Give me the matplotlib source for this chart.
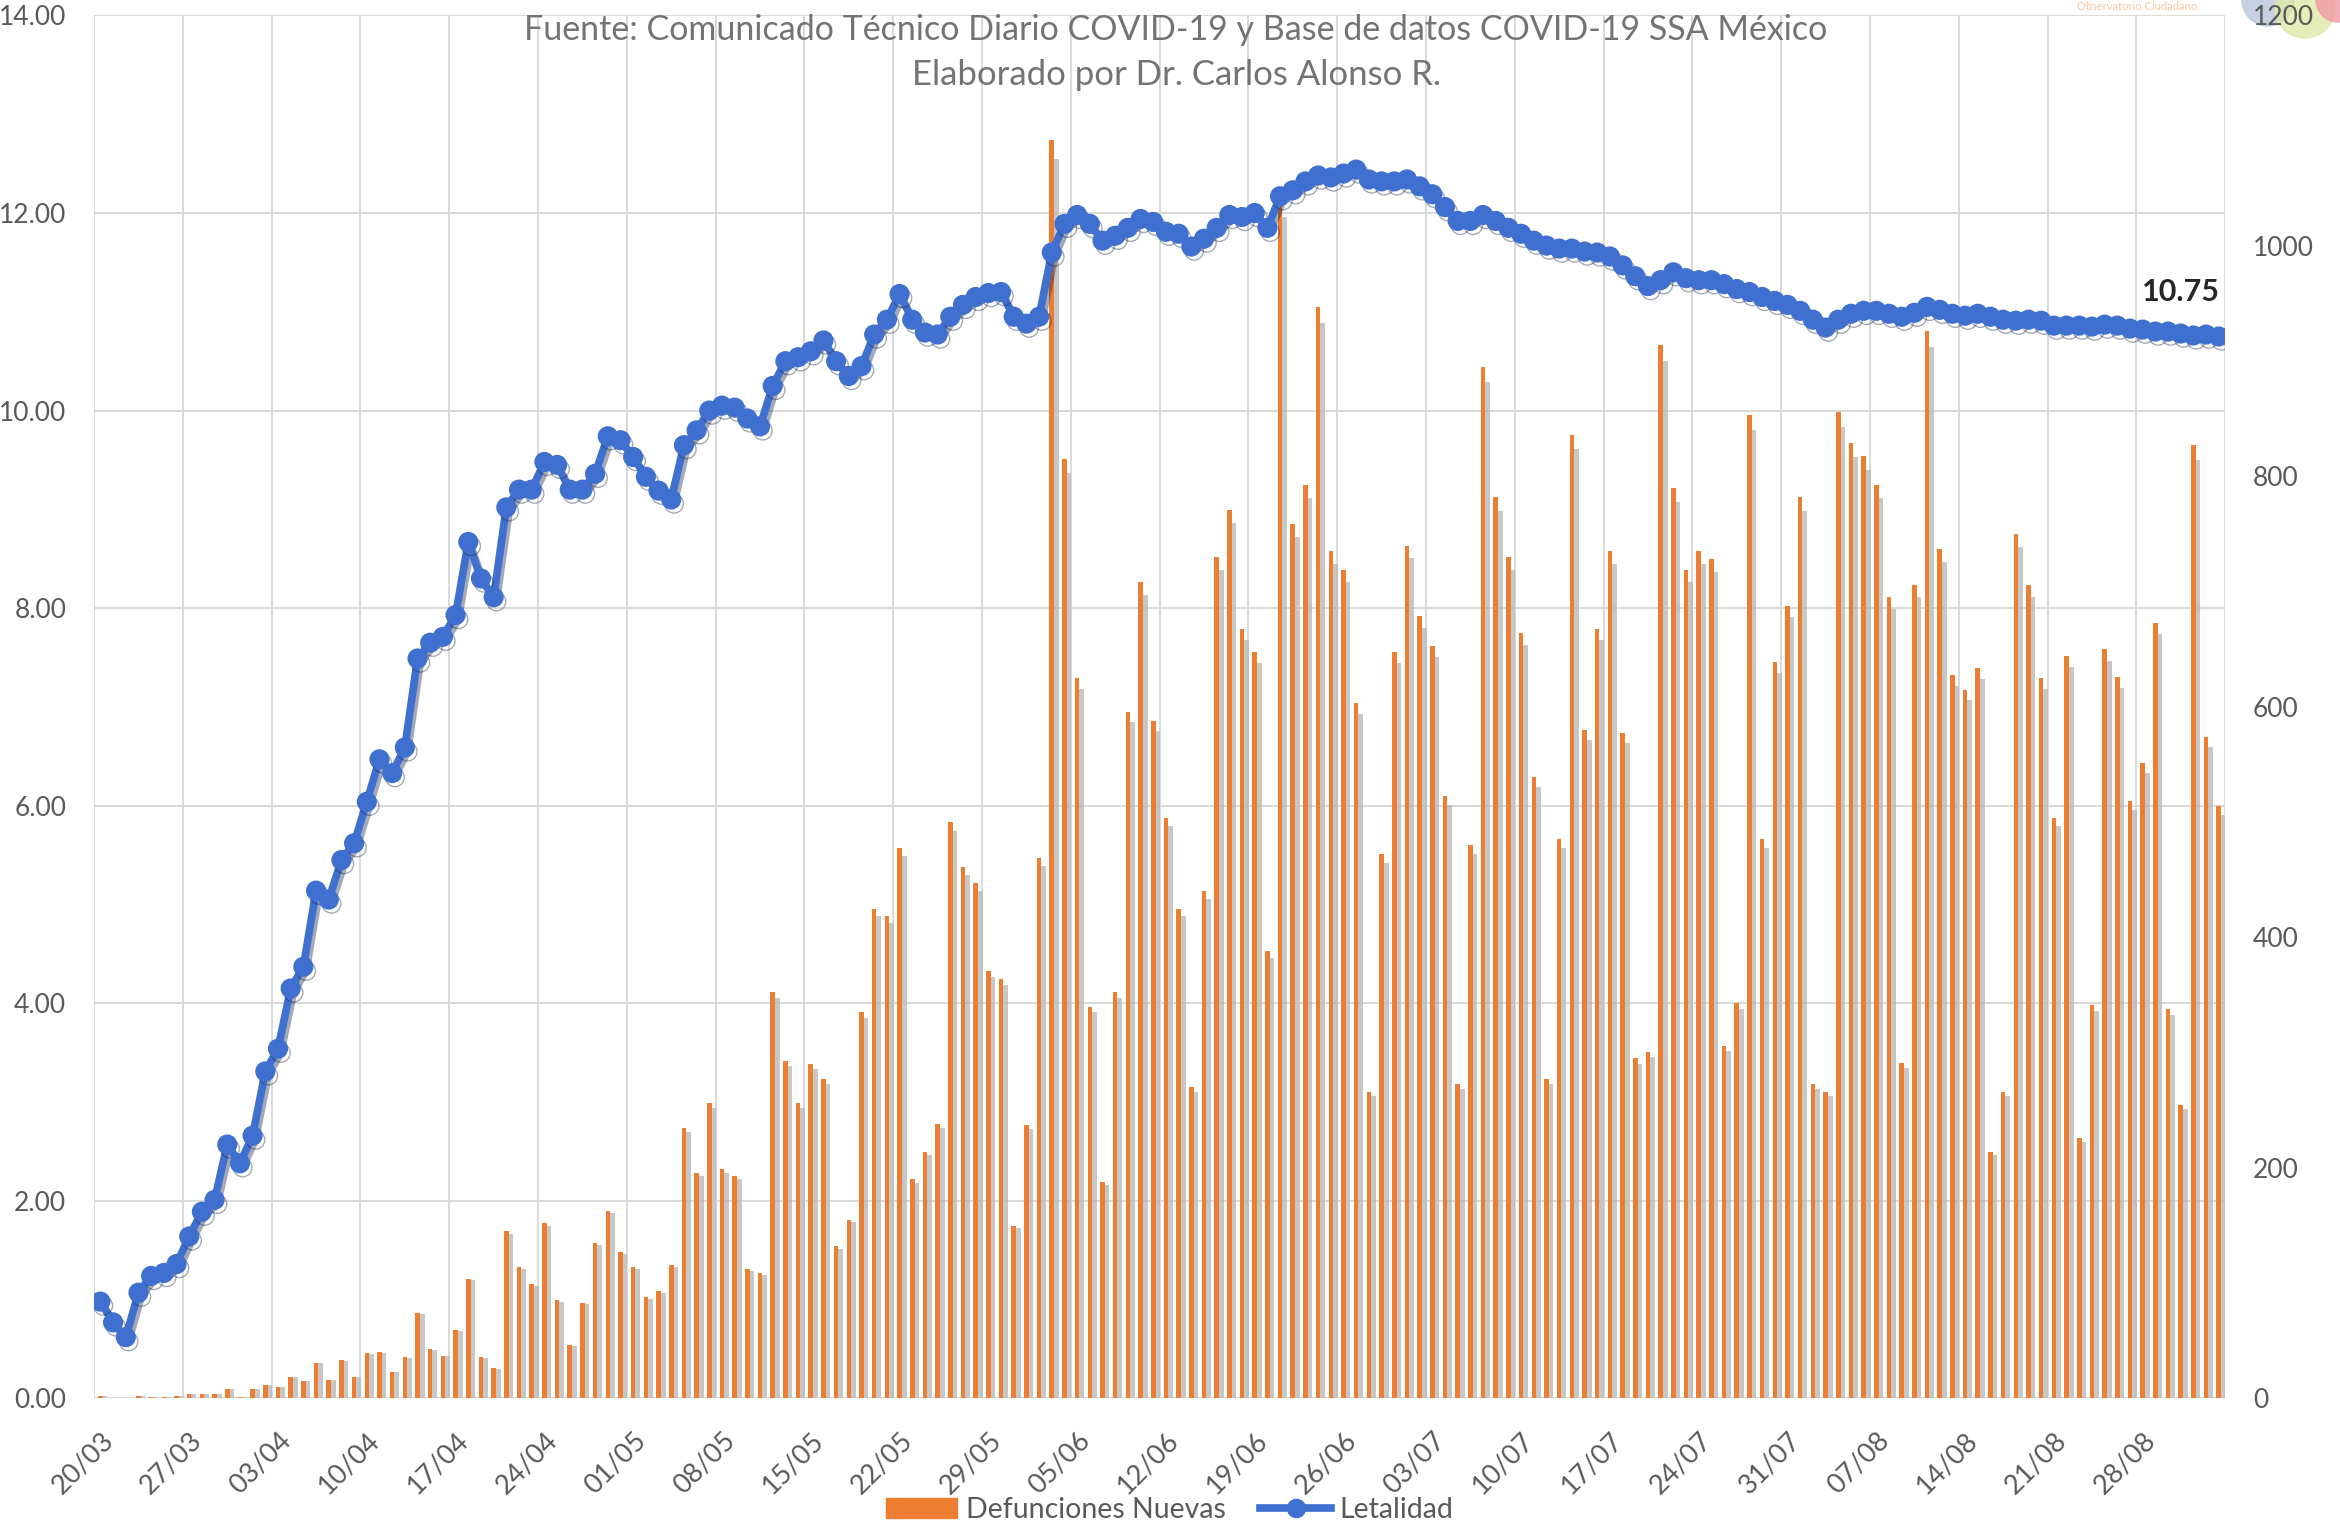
import numpy as np
import matplotlib
matplotlib.use('Agg')
import matplotlib.pyplot as plt
import matplotlib.patheffects as pe
from matplotlib.patches import Ellipse, Patch
from matplotlib.lines import Line2D

plt.rcParams['font.family'] = ['Lato', 'DejaVu Sans']

# Defunciones nuevas diarias, 20/03 -> 03/09 (eje derecho)
defunciones = [
    2, 0, 0, 2, 1, 1, 2, 4, 4, 4,
    8, 1, 8, 12, 10, 19, 15, 31, 16, 33,
    19, 39, 40, 23, 36, 74, 43, 37, 59, 104,
    36, 26, 145, 114, 99, 152, 85, 46, 83, 135,
    163, 127, 114, 88, 93, 116, 235, 196, 256, 199,
    193, 112, 109, 353, 293, 256, 290, 277, 132, 155,
    335, 425, 419, 478, 190, 214, 238, 500, 461, 447,
    371, 364, 150, 237, 469, 1092, 815, 625, 340, 188,
    353, 596, 708, 588, 504, 425, 270, 440, 730, 771,
    668, 648, 388, 1041, 759, 793, 947, 735, 719, 603,
    266, 472, 648, 740, 679, 653, 523, 273, 480, 895,
    782, 730, 664, 539, 277, 485, 836, 580, 668, 735,
    577, 295, 301, 914, 790, 719, 735, 728, 306, 343,
    853, 485, 639, 688, 782, 273, 266, 856, 829, 818,
    793, 695, 291, 706, 926, 737, 628, 615, 634, 214,
    266, 750, 706, 625, 504, 644, 226, 341, 650, 626,
    518, 551, 673, 338, 255, 827, 574, 514,
]

# Letalidad (%) (eje izquierdo)
letalidad = [
    0.98, 0.77, 0.62, 1.07, 1.24, 1.27, 1.36, 1.64, 1.89, 2.01,
    2.57, 2.38, 2.66, 3.31, 3.54, 4.15, 4.37, 5.14, 5.05, 5.45,
    5.62, 6.04, 6.47, 6.33, 6.59, 7.49, 7.65, 7.71, 7.93, 8.67,
    8.30, 8.11, 9.02, 9.20, 9.20, 9.48, 9.45, 9.20, 9.20, 9.36,
    9.74, 9.70, 9.53, 9.33, 9.19, 9.10, 9.65, 9.80, 10.00, 10.05,
    10.03, 9.92, 9.84, 10.25, 10.50, 10.54, 10.60, 10.71, 10.50, 10.35,
    10.45, 10.77, 10.92, 11.18, 10.92, 10.79, 10.77, 10.95, 11.07, 11.15,
    11.19, 11.20, 10.95, 10.88, 10.95, 11.60, 11.89, 11.98, 11.89, 11.72,
    11.77, 11.85, 11.94, 11.91, 11.81, 11.79, 11.66, 11.74, 11.85, 11.98,
    11.96, 12.00, 11.85, 12.17, 12.23, 12.32, 12.38, 12.36, 12.40, 12.44,
    12.34, 12.32, 12.32, 12.34, 12.27, 12.19, 12.06, 11.92, 11.92, 11.98,
    11.92, 11.85, 11.79, 11.72, 11.67, 11.64, 11.64, 11.61, 11.60, 11.56,
    11.47, 11.36, 11.26, 11.32, 11.40, 11.34, 11.32, 11.32, 11.28, 11.23,
    11.20, 11.15, 11.11, 11.07, 11.01, 10.92, 10.84, 10.92, 10.98, 11.01,
    11.01, 10.98, 10.95, 10.99, 11.05, 11.02, 10.98, 10.96, 10.98, 10.95,
    10.92, 10.91, 10.92, 10.91, 10.86, 10.86, 10.86, 10.85, 10.87, 10.86,
    10.83, 10.82, 10.80, 10.80, 10.78, 10.76, 10.77, 10.75,
]

etiquetas = ['20/03', '27/03', '03/04', '10/04', '17/04', '24/04', '01/05',
             '08/05', '15/05', '22/05', '29/05', '05/06', '12/06', '19/06',
             '26/06', '03/07', '10/07', '17/07', '24/07', '31/07', '07/08',
             '14/08', '21/08', '28/08']

naranja = '#ED7D31'
azul = '#3F6FCF'
gris_txt = '#595959'

x = np.arange(len(defunciones))

fig = plt.figure(figsize=(23.4, 15.3), dpi=100)
ax = fig.add_axes([0.0402, 0.0860, 0.9107, 0.9039])

# base axes: grid + left labels + dates
ax.set_xlim(-0.5, len(x) - 0.5)
ax.set_ylim(0, 14)
ax.set_yticks(np.arange(0, 15, 2))
ax.set_yticklabels([f'{v:.2f}' for v in np.arange(0, 15, 2)])
ax.set_xticks(x[::7])
ax.set_xticklabels(etiquetas, rotation=45, ha='right', rotation_mode='anchor')
ax.set_xticks(np.arange(-0.5, len(x), 7), minor=True)
ax.grid(axis='y', which='major', color='#d9d9d9', lw=1.4)
ax.grid(axis='x', which='minor', color='#d9d9d9', lw=1.4)
ax.tick_params(axis='both', which='both', length=0, labelsize=19, colors=gris_txt)
ax.tick_params(axis='y', pad=20)
ax.tick_params(axis='x', labelsize=19.5, pad=21)
for s in ax.spines.values():
    s.set_visible(False)

# bars on right axis
axb = ax.twinx()
axb.set_ylim(0, 1200)
axb.set_yticks(np.arange(0, 1201, 200))
axb.bar(x + 0.3, np.array(defunciones) * 0.985, width=0.5, color='#b5b5b5',
        alpha=0.75, linewidth=0)
axb.bar(x, defunciones, width=0.36, color=naranja, linewidth=0)
axb.tick_params(axis='y', length=0, labelsize=19, colors=gris_txt, pad=20)
for s in axb.spines.values():
    s.set_visible(False)

# line on top
axl = ax.twinx()
axl.set_ylim(0, 14)
axl.set_yticks([])
for s in axl.spines.values():
    s.set_visible(False)
axl.plot(x, letalidad, color=azul, lw=5.5, marker='o', ms=13.5, mec=azul, mfc=azul,
         solid_capstyle='round',
         path_effects=[pe.SimpleLineShadow(offset=(2, -3), shadow_color='#1a2a4a', alpha=0.4),
                       pe.Normal()])
axl.annotate(f'{letalidad[-1]:.2f}', xy=(x[-1], letalidad[-1]), xytext=(-27, 32),
             textcoords='offset points', ha='center', va='center',
             fontsize=22, fontweight='bold', color='#262626')

# texts at the top
fig.text(0.5026, 1 - 30 / 1530, 'Fuente: Comunicado Técnico Diario COVID-19 y Base de datos COVID-19 SSA México',
         ha='center', va='center', fontsize=24.5, color='#737373')
fig.text(0.5026, 1 - 75 / 1530, 'Elaborado por Dr. Carlos Alonso R.',
         ha='center', va='center', fontsize=25, color='#737373')
fig.text(0.9135, 1 - 7 / 1530, 'Observatorio Ciudadano', ha='center', va='center',
         fontsize=8, color='#f3c79c')

# partial logo circles behind the 1200 label
for cx, cy, r, c in [(2268, 0, 26, '#b9c6dd'), (2305, 8, 30, '#dfe9a6'), (2338, 0, 22, '#f09aa6')]:
    fig.add_artist(Ellipse((cx / 2340, 1 - cy / 1530), 2 * r / 2340, 2 * r / 1530,
                           transform=fig.transFigure, color=c, alpha=0.8, zorder=-1))

handles = [Patch(color=naranja),
           Line2D([], [], color=azul, lw=5.5, marker='o', ms=13)]
fig.legend(handles, ['Defunciones Nuevas', 'Letalidad'], loc='center',
           bbox_to_anchor=(0.5, 0.013), ncol=2, frameon=False, fontsize=20.5,
           handlelength=2.5, columnspacing=1.2, handletextpad=0.3,
           labelcolor=gris_txt)

fig.savefig('out.png', dpi=100)
